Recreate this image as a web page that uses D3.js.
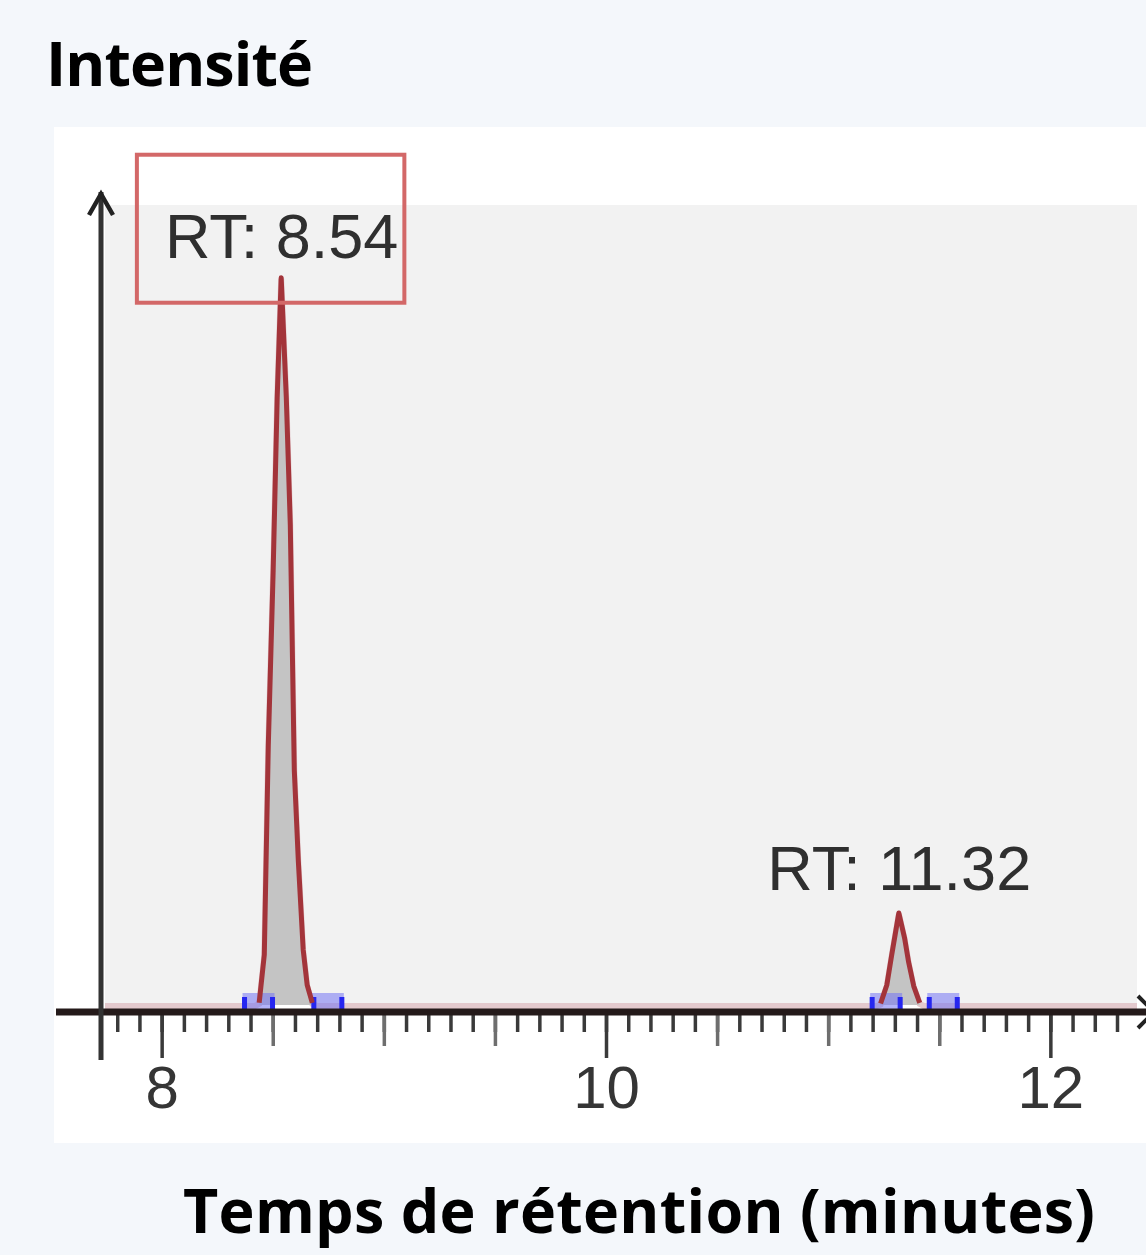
<!DOCTYPE html>
<html>
<head>
<meta charset="utf-8">
<script src="https://cdn.jsdelivr.net/npm/d3@7"></script>
<style>
  body { margin: 0; background: #f4f7fb; }
  svg { display: block; }
</style>
</head>
<body>
<div class="chart"></div>
<script>
// chromatogram trace (minutes, relative intensity)
const traceTime = [7.745, 8.420, 8.439, 8.462, 8.480, 8.502, 8.520, 8.538, 8.561, 8.579, 8.597, 8.615, 8.637, 8.655, 8.678, 8.700,
    11.220, 11.236, 11.264, 11.286, 11.318, 11.344, 11.362, 11.385, 11.412, 11.430, 12.39];
const traceIntensity = [0, 0, 0.3, 6.9, 35.7, 59.8, 83.5, 100, 83.5, 66.0, 32.3, 19.9, 7.6, 2.75, 0.3, 0,
    0, 0.2, 2.75, 6.9, 12.65, 9.2, 5.9, 2.6, 0.3, 0, 0];

const peakRT = [8.54, 11.32];
const peakLabels = ["RT: 8.54", "RT: 11.32"];
const peakApex = [100, 12.65];
const integStart = [8.436, 11.261];
const integEnd = [8.748, 11.518];

const majorTicks = [8, 10, 12];
const midTicks = [8.5, 9, 9.5, 10.5, 11, 11.5];
const minorTicks = d3.range(78, 124).map(i => i / 10);

const width = 1146, height = 1255;
const plot = { left: 105, right: 1137, top: 205, bottom: 1005 };
const axisY = 1012;

const data = traceTime.map((t, i) => ({ t: t, v: traceIntensity[i] }));

const xScale = d3.scaleLinear()
    .domain([7.745, 12.39])
    .range([plot.left, plot.right]);
const yScale = d3.scaleLinear()
    .domain([0, 110])
    .range([plot.bottom, plot.top]);

const svg = d3.select(".chart").append("svg")
    .attr("width", width)
    .attr("height", height);

svg.append("rect")
    .attr("width", width).attr("height", height)
    .attr("fill", "#f4f7fb");

// white panel + grey plot area
svg.append("rect")
    .attr("x", 54).attr("y", 127)
    .attr("width", width - 54).attr("height", 1143 - 127)
    .attr("fill", "#ffffff");
svg.append("rect")
    .attr("x", plot.left).attr("y", plot.top)
    .attr("width", plot.right - plot.left).attr("height", plot.bottom - plot.top)
    .attr("fill", "#f2f2f2");

// baseline of the trace
const baseLine = d3.line()
    .x(d => xScale(d.t))
    .y(d => yScale(d.v) + 1);
svg.append("path")
    .datum(data)
    .attr("d", baseLine)
    .attr("fill", "none")
    .attr("stroke", "#e3c9cd")
    .attr("stroke-width", 6);

// peak fill
const inPeak = d => d.v > 0;
const area = d3.area()
    .defined(inPeak)
    .x(d => xScale(d.t))
    .y0(yScale(0))
    .y1(d => yScale(d.v));
svg.append("path")
    .datum(data)
    .attr("d", area)
    .attr("fill", "#c4c4c4");

// integration markers
const markers = integStart.concat(integEnd);
const mk = svg.append("g").attr("class", "markers");
mk.selectAll("rect")
    .data(markers)
    .enter()
    .append("rect")
    .attr("x", d => xScale(d) - 16)
    .attr("y", yScale(0) - 12)
    .attr("width", 32)
    .attr("height", 16)
    .attr("fill", "#7474f4")
    .attr("fill-opacity", 0.55);
mk.selectAll("path")
    .data(markers)
    .enter()
    .append("path")
    .attr("d", d => `M${xScale(d) - 14},${yScale(0) - 8}V${yScale(0) + 5}M${xScale(d) + 14},${yScale(0) - 8}V${yScale(0) + 5}`)
    .attr("stroke", "#2626f0")
    .attr("stroke-width", 5)
    .attr("fill", "none");

// peak trace
const line = d3.line()
    .defined(inPeak)
    .x(d => xScale(d.t))
    .y(d => yScale(d.v));
svg.append("path")
    .datum(data)
    .attr("d", line)
    .attr("fill", "none")
    .attr("stroke", "#a3343a")
    .attr("stroke-width", 5)
    .attr("stroke-linejoin", "round");

// x axis ticks (three levels)
function tickAxis(values, size, cls, color) {
    const ax = d3.axisBottom(xScale)
        .tickValues(values)
        .tickSize(size)
        .tickFormat("");
    const g = svg.append("g")
        .attr("class", cls)
        .attr("transform", `translate(0,${axisY})`)
        .call(ax);
    g.select(".domain").remove();
    g.selectAll(".tick line")
        .attr("stroke", color)
        .attr("stroke-width", 3.5);
    return g;
}
tickAxis(minorTicks, 20, "minor", "#3a3a3a");
tickAxis(midTicks, 34, "mid", "#6e6e6e");
const major = tickAxis(majorTicks, 46, "major", "#3a3a3a");
major.call(d3.axisBottom(xScale).tickValues(majorTicks).tickSize(46).tickFormat(d3.format("d")));
major.select(".domain").remove();
major.selectAll(".tick line").attr("stroke", "#3a3a3a").attr("stroke-width", 3.5);
major.selectAll(".tick text")
    .attr("y", 96)
    .attr("dy", 0)
    .attr("fill", "#353535")
    .style("font-family", "'Liberation Sans', Arial, sans-serif")
    .style("font-size", "60px");

// x axis line with arrow
svg.append("line")
    .attr("x1", 56).attr("x2", width)
    .attr("y1", axisY).attr("y2", axisY)
    .attr("stroke", "#241a1a")
    .attr("stroke-width", 7);
svg.append("path")
    .attr("d", `M${width - 8},${axisY - 16}L${width + 8},${axisY}L${width - 8},${axisY + 16}`)
    .attr("fill", "none")
    .attr("stroke", "#222")
    .attr("stroke-width", 4);

// y axis line with arrow
svg.append("line")
    .attr("x1", 101).attr("x2", 101)
    .attr("y1", 192).attr("y2", 1060)
    .attr("stroke", "#333")
    .attr("stroke-width", 5);
svg.append("path")
    .attr("d", "M89,215L101,194L113,215")
    .attr("fill", "none")
    .attr("stroke", "#222")
    .attr("stroke-width", 4.5);

// peak labels
const labels = svg.append("g").attr("class", "labels");
labels.selectAll("text")
    .data(peakRT)
    .enter()
    .append("text")
    .attr("x", d => xScale(d))
    .attr("y", (d, i) => yScale(peakApex[i]) - (i === 0 ? 20 : 23))
    .attr("text-anchor", "middle")
    .attr("fill", "#2f2f2f")
    .style("font-family", "'Liberation Sans', Arial, sans-serif")
    .style("font-size", "63px")
    .text((d, i) => peakLabels[i]);

// highlight box round the first label
const bb = labels.select("text").node().getBBox();
svg.append("rect")
    .attr("x", bb.x - 28)
    .attr("y", bb.y - 46)
    .attr("width", bb.width + 34)
    .attr("height", bb.height + 78)
    .attr("fill", "none")
    .attr("stroke", "#d36868")
    .attr("stroke-width", 4);

// titles
const titleFont = "'Open Sans', 'Noto Sans', sans-serif";
svg.append("text")
    .attr("x", 46)
    .attr("y", 86)
    .attr("textLength", 267)
    .style("font-family", titleFont)
    .style("font-weight", "bold")
    .style("font-size", "61px")
    .style("font-variant-ligatures", "none")
    .attr("fill", "#000")
    .text("Intensité");

svg.append("text")
    .attr("x", 183)
    .attr("y", 1233)
    .attr("textLength", 912)
    .style("font-family", titleFont)
    .style("font-weight", "bold")
    .style("font-size", "61px")
    .style("font-variant-ligatures", "none")
    .attr("fill", "#000")
    .text("Temps de rétention (minutes)");
</script>
</body>
</html>
